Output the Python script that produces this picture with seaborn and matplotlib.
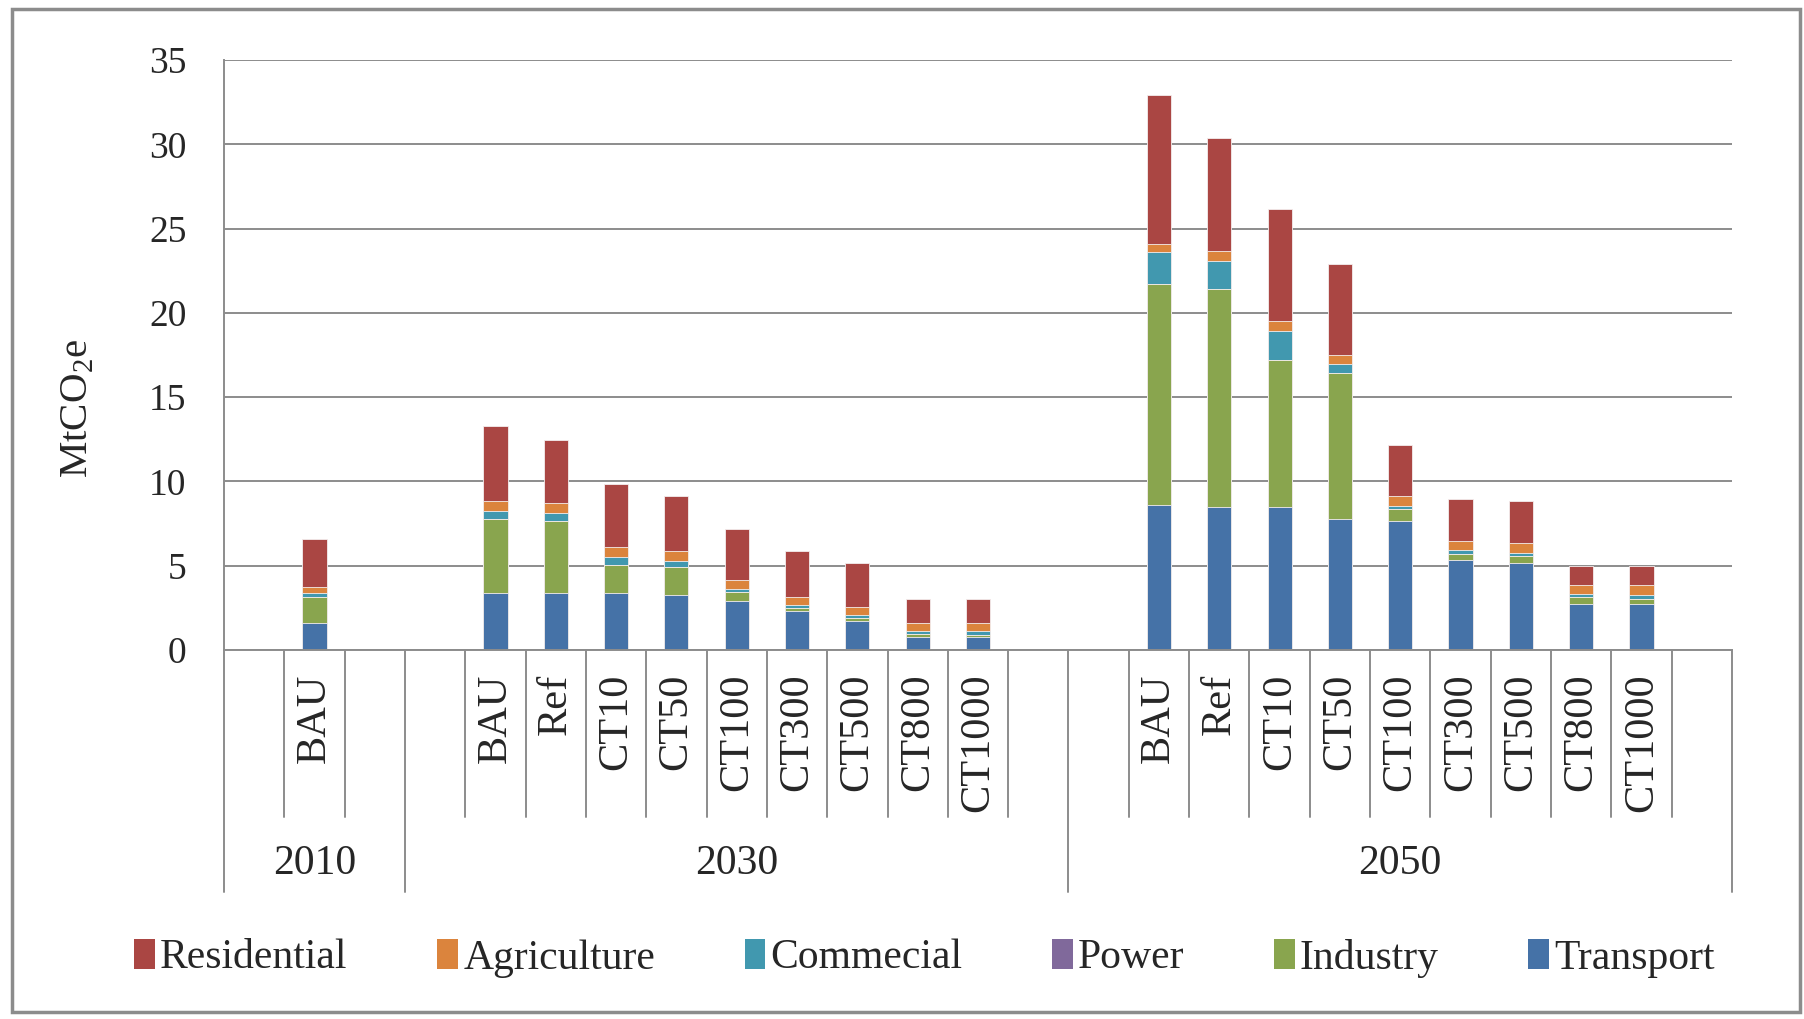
import numpy as np
import pandas as pd
import matplotlib
matplotlib.use("Agg")
import matplotlib.pyplot as plt
from matplotlib.patches import Rectangle, Patch
from matplotlib.transforms import blended_transform_factory
import seaborn as sns

# ---- data -------------------------------------------------------------
years = ["2010", "2030", "2050"]
scenarios_2010 = ["BAU"]
scenarios_2030 = ["BAU", "Ref", "CT10", "CT50", "CT100", "CT300", "CT500", "CT800", "CT1000"]
scenarios_2050 = ["BAU", "Ref", "CT10", "CT50", "CT100", "CT300", "CT500", "CT800", "CT1000"]

# MtCO2e by sector, one value per bar (2010 BAU, 2030 x9, 2050 x9)
transport = [1.6,
             3.37, 3.37, 3.37, 3.25, 2.9, 2.3, 1.7, 0.75, 0.75,
             8.6, 8.5, 8.5, 7.75, 7.65, 5.35, 5.15, 2.75, 2.75]
industry = [1.55,
            4.4, 4.3, 1.67, 1.7, 0.55, 0.2, 0.2, 0.2, 0.12,
            13.1, 12.9, 8.7, 8.7, 0.7, 0.35, 0.4, 0.4, 0.25]
power = [0.0,
         0.0, 0.0, 0.0, 0.0, 0.0, 0.0, 0.0, 0.0, 0.0,
         0.0, 0.0, 0.0, 0.0, 0.0, 0.0, 0.0, 0.0, 0.0]
commercial = [0.25,
              0.47, 0.47, 0.48, 0.35, 0.15, 0.15, 0.15, 0.15, 0.25,
              1.9, 1.65, 1.7, 0.5, 0.2, 0.25, 0.2, 0.2, 0.25]
agriculture = [0.35,
               0.6, 0.6, 0.6, 0.57, 0.58, 0.48, 0.5, 0.5, 0.5,
               0.5, 0.6, 0.6, 0.55, 0.6, 0.5, 0.6, 0.5, 0.6]
residential = [2.85,
               4.42, 3.7, 3.7, 3.25, 3.0, 2.75, 2.6, 1.4, 1.4,
               8.8, 6.7, 6.65, 5.4, 3.0, 2.5, 2.5, 1.15, 1.15]

legend_order = ["Residential", "Agriculture", "Commecial", "Power", "Industry", "Transport"]
colors = {
    "Residential": "#AA4643",
    "Agriculture": "#DB843D",
    "Commecial": "#4198AF",
    "Power": "#80699B",
    "Industry": "#89A54E",
    "Transport": "#4572A7",
}

# ---- slot layout: each year group padded by one empty slot per side --
groups = [scenarios_2010, scenarios_2030, scenarios_2050]
positions, bar_labels, bar_years = [], [], []
group_edges = [-0.5]
group_centers = []
start = 0
for yr, scen in zip(years, groups):
    for i, s in enumerate(scen):
        positions.append(start + 1 + i)
        bar_labels.append(s)
        bar_years.append(yr)
    end = start + len(scen) + 2
    group_edges.append(end - 0.5)
    group_centers.append((start + end - 1) / 2)
    start = end
n_slots = start

df = pd.DataFrame({
    "pos": positions, "scenario": bar_labels, "year": bar_years,
    "Transport": transport, "Industry": industry, "Power": power,
    "Commecial": commercial, "Agriculture": agriculture, "Residential": residential,
})
stack_order = ["Transport", "Industry", "Power", "Commecial", "Agriculture", "Residential"]
cum = df[stack_order].cumsum(axis=1)

# ---- figure -----------------------------------------------------------
sns.set_style("white")
plt.rcParams["font.family"] = ["Liberation Serif", "DejaVu Serif"]
plt.rcParams["mathtext.fontset"] = "custom"
plt.rcParams["mathtext.rm"] = "Liberation Serif"

W, H = 1804, 1019
fig = plt.figure(figsize=(W / 100, H / 100), dpi=100)
ax = fig.add_axes([224 / W, 1 - 650 / H, (1732 - 224) / W, (650 - 60) / H])

grey = "#8c8c8c"

# cumulative bars drawn from the top segment downward
for sector in reversed(stack_order):
    d = pd.DataFrame({"pos": df["pos"], "val": cum[sector]})
    sns.barplot(data=d, x="pos", y="val", native_scale=True, width=0.4,
                color=colors[sector], saturation=1, errorbar=None,
                edgecolor="#f4eeee", linewidth=0.6, ax=ax)

ax.set_xlim(-0.5, n_slots - 0.5)
ax.set_ylim(0, 35)
ax.set_xlabel("")
ax.set_ylabel("")

ax.set_yticks(np.arange(0, 36, 5))
ax.yaxis.grid(True, color=grey, linewidth=1.4)
ax.set_axisbelow(True)
ax.tick_params(axis="y", direction="out", length=9, width=1.2, color=grey,
               labelsize=27, pad=18)
ax.set_xticks(np.arange(-0.5, n_slots, 1.0))
ax.set_xticklabels([])
ax.tick_params(axis="x", direction="out", length=6, width=1.2, color=grey)

for side in ["top", "right"]:
    ax.spines[side].set_visible(False)
for side in ["left", "bottom"]:
    ax.spines[side].set_color(grey)
    ax.spines[side].set_linewidth(1.4)

# ---- two-level category axis -----------------------------------------
trans = blended_transform_factory(ax.transData, ax.transAxes)
row1 = -(817 - 650) / 590
row2 = -(892 - 650) / 590

for p, s in zip(df["pos"], df["scenario"]):
    ax.text(p, -0.040, s, rotation=90, ha="center", va="top",
            fontsize=30.5, transform=trans)

short_edges = set()
for p in df["pos"]:
    short_edges.update([p - 0.5, p + 0.5])
for b in sorted(short_edges - set(group_edges)):
    ax.plot([b, b], [0, row1], transform=trans, clip_on=False,
            color=grey, linewidth=1.4)
for b in group_edges:
    ax.plot([b, b], [0, row2], transform=trans, clip_on=False,
            color=grey, linewidth=1.4)

for yr, c in zip(years, group_centers):
    ax.text(c, -(864 - 650) / 590, yr, ha="center", va="center",
            fontsize=30, transform=trans)

fig.text(78 / W, 1 - 408 / H, "MtCO$_2$e", rotation=90, ha="center",
         va="center", fontsize=29.5)

# ---- legend -----------------------------------------------------------
handles = [Patch(facecolor=colors[s], edgecolor="none") for s in legend_order]
fig.legend(handles, legend_order, loc="center", bbox_to_anchor=(0.5125, 1 - 958 / H),
           ncol=6, frameon=False, fontsize=30, handlelength=0.5,
           handleheight=0.7, handletextpad=0.12, columnspacing=2.15)

# outer frame
fig.patches.append(Rectangle((12 / W, 7 / H), (1800 - 12) / W, (1010 - 7) / H,
                             transform=fig.transFigure, fill=False,
                             edgecolor=grey, linewidth=2.5))

fig.savefig("out.png", dpi=100)
